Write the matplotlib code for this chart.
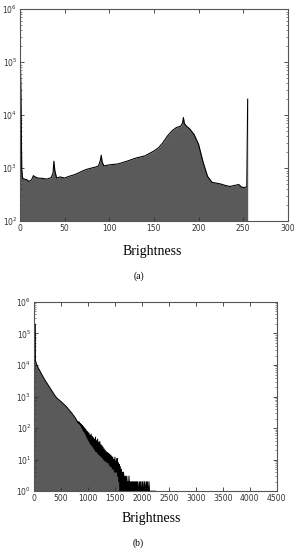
import numpy as np
import matplotlib
matplotlib.use("Agg")
import matplotlib.pyplot as plt
from matplotlib.ticker import LogLocator, FixedLocator

# (a) 8-bit brightness histogram: bin positions and counts
a_x = [0, 1, 2, 3, 5, 8, 10, 13, 15, 17, 20, 25, 30, 35, 37, 38, 39, 41, 45, 50,
       55, 60, 65, 70, 75, 80, 85, 88, 90, 91, 92, 94, 100, 110, 120, 130, 140,
       150, 155, 160, 165, 170, 175, 180, 182, 183, 184, 186, 190, 195, 200,
       205, 210, 215, 220, 225, 230, 235, 240, 245, 248, 250, 254, 255]
a_y = [280000, 30000, 900, 640, 620, 600, 560, 600, 720, 680, 650, 640, 620, 660,
       800, 1350, 900, 650, 680, 650, 700, 740, 800, 880, 950, 1000, 1050, 1100,
       1400, 1750, 1300, 1100, 1150, 1200, 1350, 1550, 1700, 2100, 2400, 3000,
       4000, 5000, 5800, 6200, 7000, 9000, 7000, 6300, 5500, 4300, 2800, 1300,
       700, 540, 520, 500, 470, 450, 470, 490, 440, 430, 440, 20000]

# (b) high-bit brightness histogram, smooth head
b_head_x = [0, 10, 18, 26, 34, 45, 60, 80, 100, 150, 200, 250, 300, 350, 400,
            450, 500, 550, 600, 650, 700, 750, 790]
b_head_y = [14000, 20000, 200000, 15000, 12500, 11000, 9500, 8000, 7000, 4800,
            3400, 2500, 1850, 1350, 1000, 820, 700, 580, 480, 380, 300, 230, 180]
# noisy tail, bins every 10 from 800 to 2150, last point closes the line
b_tail_x = list(range(800, 2160, 10)) + [2250]
b_tail_y = [165, 150, 160, 140, 155, 130, 140, 115, 130, 100,
            120, 85, 110, 75, 100, 65, 90, 55, 80, 45,
            75, 40, 70, 35, 60, 30, 65, 28, 55, 25,
            50, 22, 45, 20, 52, 18, 40, 17, 45, 15,
            35, 14, 38, 13, 30, 12, 28, 11, 25, 10,
            22, 9, 20, 9, 18, 8, 17, 8, 16, 7,
            15, 6, 14, 6, 13, 5, 12, 5, 10, 4,
            12, 4, 9, 4, 11, 3, 8, 2, 7, 1,
            6, 1, 5, 1, 4, 1, 4, 1, 3, 1,
            3, 1, 3, 1, 2, 1, 3, 1, 2, 1,
            2, 1, 2, 1, 2, 1, 2, 1, 2, 1,
            2, 1, 2, 1, 1, 2, 1, 2, 1, 1,
            2, 1, 2, 1, 1, 2, 1, 1, 2, 1,
            2, 1, 1, 2, 1, 1, 1]

fill_col = "#5a5a5a"
frame_col = "#555555"

fig = plt.figure(figsize=(2.98, 5.5), dpi=100)


def style_axes(ax, ymin, ymax):
    ax.set_yscale("log")
    ax.set_ylim(ymin, ymax)
    ax.tick_params(which="both", direction="in", top=True, right=True,
                   labelsize=5.5, colors="#333333", pad=2)
    ax.tick_params(which="major", length=3, width=0.6)
    ax.tick_params(which="minor", length=1.5, width=0.4)
    ax.yaxis.set_minor_locator(LogLocator(base=10, subs=np.arange(2, 10)))
    for s in ax.spines.values():
        s.set_color(frame_col)
        s.set_linewidth(0.8)


# panel (a)
ax1 = fig.add_axes([0.067, 0.598, 0.899, 0.3855])
ax1.fill_between(a_x, a_y, 1e2, color=fill_col, linewidth=0)
ax1.plot(a_x, a_y, color="black", linewidth=0.8)
ax1.set_xlim(0, 300)
ax1.xaxis.set_major_locator(FixedLocator([0, 50, 100, 150, 200, 250, 300]))
style_axes(ax1, 1e2, 1e6)

# panel (b)
b_x = b_head_x + b_tail_x
b_y = b_head_y + b_tail_y
ax2 = fig.add_axes([0.114, 0.107, 0.815, 0.344])
ax2.fill_between(b_x, b_y, 1, color=fill_col, linewidth=0)
ax2.plot(b_x, b_y, color="black", linewidth=0.7)
ax2.set_xlim(0, 4500)
ax2.xaxis.set_major_locator(FixedLocator(list(range(0, 4501, 500))))
style_axes(ax2, 1, 1e6)

serif = ["Liberation Serif", "DejaVu Serif"]
fig.text(0.51, 0.542, "Brightness", ha="center", va="center", fontsize=10, family=serif)
fig.text(0.465, 0.497, "(a)", ha="center", va="center", fontsize=7, family=serif)
fig.text(0.507, 0.058, "Brightness", ha="center", va="center", fontsize=10, family=serif)
fig.text(0.465, 0.013, "(b)", ha="center", va="center", fontsize=7, family=serif)

fig.savefig("out.png", dpi=100)
